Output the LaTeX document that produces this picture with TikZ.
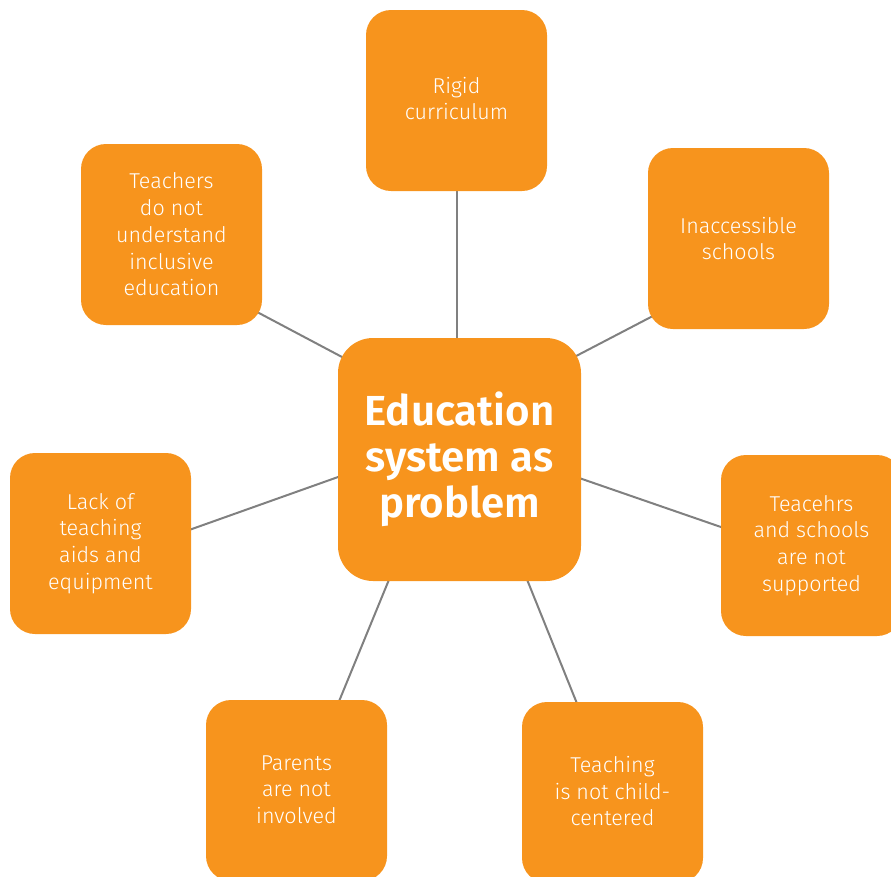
\documentclass[tikz,border=0pt]{standalone}
\usepackage{fontspec}
\setmainfont{Fira Sans Light}[BoldFont={Fira Sans SemiBold}]
\usetikzlibrary{calc,backgrounds}
\definecolor{boxorange}{HTML}{F7941D}
\definecolor{linegray}{HTML}{808080}
\begin{document}
\begin{tikzpicture}[x=1pt,y=-1pt,
  satbox/.style={fill=boxorange, draw=none, rounded corners=25pt, minimum width=181pt, minimum height=181pt,
    inner sep=0pt, outer sep=0pt, align=center, text=white, font=\fontsize{21.5}{26.8}\selectfont},
  centerbox/.style={fill=boxorange, draw=none, rounded corners=35pt, minimum width=243pt, minimum height=243pt,
    inner sep=0pt, outer sep=0pt, align=center, text=white, font=\bfseries\fontsize{42}{46}\selectfont},
  conn/.style={draw=linegray, line width=2pt}]
\useasboundingbox (0,0) rectangle (891,876);
\node[centerbox] (c) at (459.5,459.5) {\raisebox{-2pt}{Education}\\\raisebox{-2pt}{system as}\\\raisebox{-2pt}{problem}};
\node[satbox] (t) at (456.5,100.5) {\raisebox{4pt}{Rigid}\\\raisebox{4pt}{curriculum}};
\node[satbox] (rt) at (738.5,238.5) {Inaccessible\\schools};
\node[satbox] (lt) at (171.5,234.5) {Teachers\\do not\\understand\\inclusive\\education};
\node[satbox] (l) at (100.5,543.5) {Lack of\\teaching\\aids and\\equipment};
\node[satbox] (r) at (811.5,545.5) {Teacehrs\\and schools\\are not\\supported};
\node[satbox] (bl) at (296.5,790.5) {\raisebox{2pt}{Parents}\\\raisebox{2pt}{are not}\\\raisebox{2pt}{involved}};
\node[satbox] (br) at (612.5,792.5) {\raisebox{3pt}{Teaching}\\\raisebox{3pt}{is not child-}\\\raisebox{3pt}{centered}};
\begin{scope}[on background layer]
\draw[conn] ($(c)+(-2.5,-115.5)$) -- ($(t)+(0.5,84.5)$);
\draw[conn] ($(c)+(113.2,-101.7)$) -- ($(rt)+(-82.2,75.7)$);
\draw[conn] ($(c)+(-112.2,-99.7)$) -- ($(lt)+(82.2,75.7)$);
\draw[conn] ($(c)+(-115.8,15.5)$) -- ($(l)+(85.8,-12.5)$);
\draw[conn] ($(c)+(116.8,17.5)$) -- ($(r)+(-84.8,-16.5)$);
\draw[conn] ($(c)+(-69.2,117)$) -- ($(bl)+(41.2,-86)$);
\draw[conn] ($(c)+(66.3,117)$) -- ($(br)+(-34.3,-86)$);
\end{scope}
\end{tikzpicture}
\end{document}
